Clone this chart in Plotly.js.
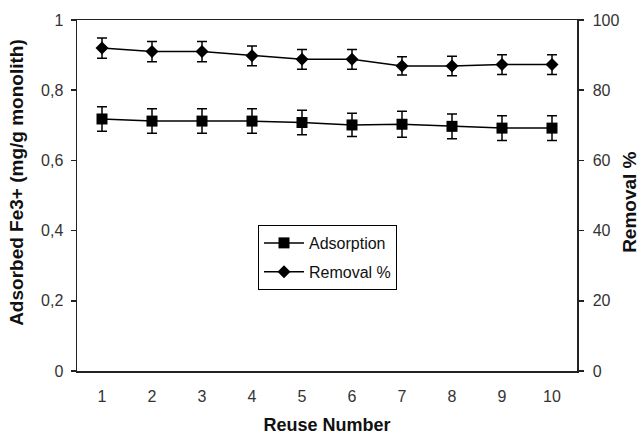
<!DOCTYPE html>
<html>
<head>
<meta charset="utf-8">
<script src="https://cdn.plot.ly/plotly-3.0.1.min.js"></script>
<style>html,body{margin:0;padding:0;background:#fff;}#chart{width:644px;height:435px;}</style>
</head>
<body>
<div id="chart"></div>
<script>
const reuseNumber = [1, 2, 3, 4, 5, 6, 7, 8, 9, 10];
const adsorption = [0.718, 0.712, 0.712, 0.712, 0.708, 0.701, 0.703, 0.697, 0.692, 0.692];
const adsorptionErr = [0.035, 0.035, 0.035, 0.035, 0.035, 0.033, 0.037, 0.035, 0.035, 0.035];
const removal = [92.0, 91.0, 91.0, 89.8, 88.8, 88.8, 86.9, 86.9, 87.3, 87.3];
const removalErr = [2.9, 2.9, 2.9, 2.8, 2.8, 2.8, 2.6, 2.8, 2.8, 2.8];
const leftTickVals = [0, 0.2, 0.4, 0.6, 0.8, 1];
const leftTickText = ['0', '0,2', '0,4', '0,6', '0,8', '1'];
const rightTickVals = [0, 20, 40, 60, 80, 100];
const xTickText = reuseNumber.map(String);

const boundaries = reuseNumber.map(v => v - 0.5).concat([reuseNumber[reuseNumber.length - 1] + 0.5]);
const xRange = [boundaries[0], boundaries[boundaries.length - 1]];

const FONT = 'Liberation Sans, Arial, sans-serif';
const AX = '#222';

const traces = [
  {
    x: reuseNumber, y: adsorption, name: 'Adsorption', type: 'scatter', mode: 'lines+markers',
    xaxis: 'x', yaxis: 'y', legendgroup: 'a',
    line: {color: '#000', width: 1.5},
    marker: {symbol: 'square', size: 11, color: '#000'},
    error_y: {type: 'data', array: adsorptionErr, visible: true, color: '#000', thickness: 1.5, width: 5}
  },
  {
    x: reuseNumber, y: removal, name: 'Removal %', type: 'scatter', mode: 'lines+markers',
    xaxis: 'x', yaxis: 'y2', legendgroup: 'b',
    line: {color: '#000', width: 1.5},
    marker: {symbol: 'diamond', size: 10, color: '#000'},
    error_y: {type: 'data', array: removalErr, visible: true, color: '#000', thickness: 1.5, width: 5}
  }
];

const layout = {
  width: 644, height: 435,
  margin: {l: 77, r: 67, t: 20, b: 64, pad: 0},
  paper_bgcolor: '#fff', plot_bgcolor: '#fff',
  font: {family: FONT, size: 16, color: '#333'},
  showlegend: true,
  legend: {
    x: 0.362, y: 0.416, xanchor: 'left', yanchor: 'top',
    bordercolor: '#000', borderwidth: 1, bgcolor: '#fff',
    font: {family: FONT, size: 16, color: '#111'},
    tracegroupgap: 5, traceorder: 'grouped', itemwidth: 40
  },
  xaxis: {
    range: xRange, tickmode: 'array', tickvals: reuseNumber, ticktext: xTickText,
    ticks: '', showgrid: false, zeroline: false,
    showline: true, linecolor: AX, linewidth: 1.5, mirror: true,
    tickfont: {family: FONT, size: 16, color: '#333'}, ticklabelstandoff: 10,
    title: {text: 'Reuse Number', font: {family: FONT, size: 18, color: '#111', weight: 'bold'}, standoff: 15},
    automargin: false
  },
  xaxis2: {
    overlaying: 'x', anchor: 'y', range: xRange, tickmode: 'array', tickvals: boundaries,
    ticks: 'outside', ticklen: 5, tickwidth: 1.5, tickcolor: AX, showticklabels: false,
    showgrid: false, zeroline: false, showline: false
  },
  xaxis3: {
    overlaying: 'x', anchor: 'y', range: xRange, tickmode: 'array', tickvals: boundaries,
    ticks: 'inside', ticklen: 3, tickwidth: 1.5, tickcolor: AX, showticklabels: false,
    showgrid: false, zeroline: false, showline: false
  },
  yaxis: {
    range: [0, 1], tickmode: 'array', tickvals: leftTickVals, ticktext: leftTickText,
    ticks: 'outside', ticklen: 5, tickwidth: 1.5, tickcolor: AX,
    showgrid: false, zeroline: false, showline: true, linecolor: AX, linewidth: 1.5,
    tickfont: {family: FONT, size: 16, color: '#333'}, ticklabelstandoff: 4,
    automargin: false
  },
  yaxis3: {
    overlaying: 'y', side: 'left', anchor: 'x', range: [0, 1], tickmode: 'array', tickvals: leftTickVals,
    ticks: 'inside', ticklen: 3, tickwidth: 1.5, tickcolor: AX, showticklabels: false,
    showgrid: false, zeroline: false, showline: false
  },
  yaxis2: {
    overlaying: 'y', side: 'right', anchor: 'x', range: [0, 100], tickmode: 'array', tickvals: rightTickVals,
    ticks: 'outside', ticklen: 5, tickwidth: 1.5, tickcolor: AX,
    showgrid: false, zeroline: false, showline: true, linecolor: AX, linewidth: 1.5,
    tickfont: {family: FONT, size: 16, color: '#333'}, ticklabelstandoff: 6,
    automargin: false
  },
  yaxis4: {
    overlaying: 'y', side: 'right', anchor: 'x', range: [0, 100], tickmode: 'array', tickvals: rightTickVals,
    ticks: 'inside', ticklen: 3, tickwidth: 1.5, tickcolor: AX, showticklabels: false,
    showgrid: false, zeroline: false, showline: false
  },
  annotations: [
    {
      text: 'Adsorbed Fe3+ (mg/g monolith)', xref: 'paper', yref: 'paper',
      x: -0.12, y: 0.536, xanchor: 'center', yanchor: 'middle', textangle: -90, showarrow: false,
      font: {family: FONT, size: 19, color: '#111', weight: 'bold'}
    },
    {
      text: 'Removal %', xref: 'paper', yref: 'paper',
      x: 1.106, y: 0.479, xanchor: 'center', yanchor: 'middle', textangle: -90, showarrow: false,
      font: {family: FONT, size: 19, color: '#111', weight: 'bold'}
    }
  ]
};

Plotly.newPlot('chart', traces, layout, {displayModeBar: false, staticPlot: true});
</script>
</body>
</html>
